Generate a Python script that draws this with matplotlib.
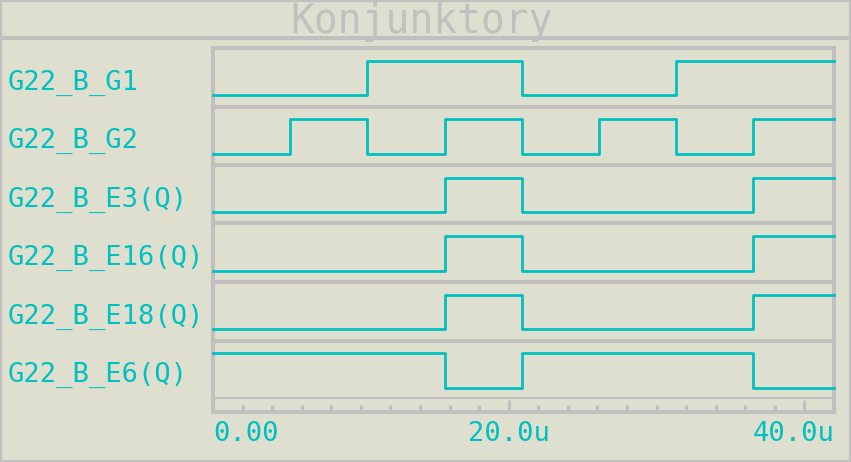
import matplotlib
matplotlib.use("Agg")
import matplotlib.pyplot as plt
from matplotlib.lines import Line2D
from matplotlib.patches import Rectangle
from matplotlib.ticker import MultipleLocator
from matplotlib.transforms import blended_transform_factory

W, H = 851, 462
BG = "#dfdfd0"
GRAY = "#c0c0c0"
CYAN = "#00c0c0"
MONO = "DejaVu Sans Mono"

# switching instants (us) and logic levels
edges = [0.0, 5.22, 10.44, 15.66, 20.88, 26.10, 31.32, 36.54]
t_end = 42.0
names = ["G22_B_G1", "G22_B_G2", "G22_B_E3(Q)", "G22_B_E16(Q)", "G22_B_E18(Q)", "G22_B_E6(Q)"]
g1 = [0, 0, 1, 1, 0, 0, 1, 1]
g2 = [0, 1, 0, 1, 0, 1, 0, 1]
e3 = [0, 0, 0, 1, 0, 0, 0, 1]
e16 = [0, 0, 0, 1, 0, 0, 0, 1]
e18 = [0, 0, 0, 1, 0, 0, 0, 1]
e6 = [1, 1, 1, 0, 1, 1, 1, 0]
traces = [g1, g2, e3, e16, e18, e6]
tick_vals = [0, 20, 40]
tick_labels = ["0.00", "20.0u", "40.0u"]
title = "Konjunktory"

# layout in pixels
PL, PR = 213, 834
TOP, ROW_H = 48, 58.5
HI_PAD, LO_PAD = 12.5, 11.5
FRAME_LW = 2.9


def add_px_axes(fig, left, top, right, bottom):
    return fig.add_axes([left / W, 1 - bottom / H, (right - left) / W, (bottom - top) / H])


fig = plt.figure(figsize=(W / 100, H / 100), dpi=100, facecolor=BG)

# outer border and title bar
fig.patches.append(Rectangle((0, 0), 1, 1, transform=fig.transFigure, fill=False,
                             edgecolor=GRAY, linewidth=3))
fig.lines.append(Line2D([0, 1], [1 - 38 / H, 1 - 38 / H], transform=fig.transFigure,
                        color=GRAY, linewidth=FRAME_LW))
fig.text(421.5 / W, 1 - 33.3 / H, title, ha="center", va="baseline", fontsize=28.5,
         family=MONO, color=GRAY)

span = ROW_H - HI_PAD - LO_PAD
for i, (name, vals) in enumerate(zip(names, traces)):
    top = TOP + i * ROW_H
    ax = add_px_axes(fig, PL, top, PR, top + ROW_H)
    ax.set_facecolor(BG)
    ax.plot(edges + [t_end], vals + [vals[-1]], drawstyle="steps-post", color=CYAN,
            linewidth=2.0, solid_capstyle="projecting", clip_on=False, zorder=3)
    ax.set_xlim(0, t_end)
    ax.set_ylim(-LO_PAD / span, 1 + HI_PAD / span)
    ax.set_xticks([])
    ax.set_yticks([])
    for s in ax.spines.values():
        s.set_color(GRAY)
        s.set_linewidth(FRAME_LW)
    fig.text(8 / W, 1 - (top + ROW_H / 2 + 12.5) / H, name, ha="left", va="baseline",
             fontsize=19.5, family=MONO, color=CYAN)

# time axis strip
bottom_rows = TOP + 6 * ROW_H
axt = add_px_axes(fig, PL, bottom_rows, PR, 411.5)
axt.set_facecolor(BG)
axt.set_xlim(0, t_end)
axt.set_ylim(0, 1)
axt.set_yticks([])
axt.set_xticks(tick_vals)
axt.xaxis.set_minor_locator(MultipleLocator(2))
axt.tick_params(axis="x", which="major", direction="in", length=8.3, width=2.4,
                color=GRAY, labelbottom=False)
axt.tick_params(axis="x", which="minor", direction="in", length=5.4, width=2.4,
                color=GRAY)
axt.spines["top"].set_visible(False)
for k in ("left", "right", "bottom"):
    axt.spines[k].set_color(GRAY)
    axt.spines[k].set_linewidth(FRAME_LW)

trans = blended_transform_factory(axt.transData, fig.transFigure)
aligns = ["left", "center", "right"]
for v, lab, ha in zip(tick_vals, tick_labels, aligns):
    x = v if ha != "right" else t_end
    axt.text(x, 1 - 441 / H, lab, transform=trans, ha=ha, va="baseline",
             fontsize=19.5, family=MONO, color=CYAN, clip_on=False)

fig.savefig("out.png", dpi=100, facecolor=BG)
